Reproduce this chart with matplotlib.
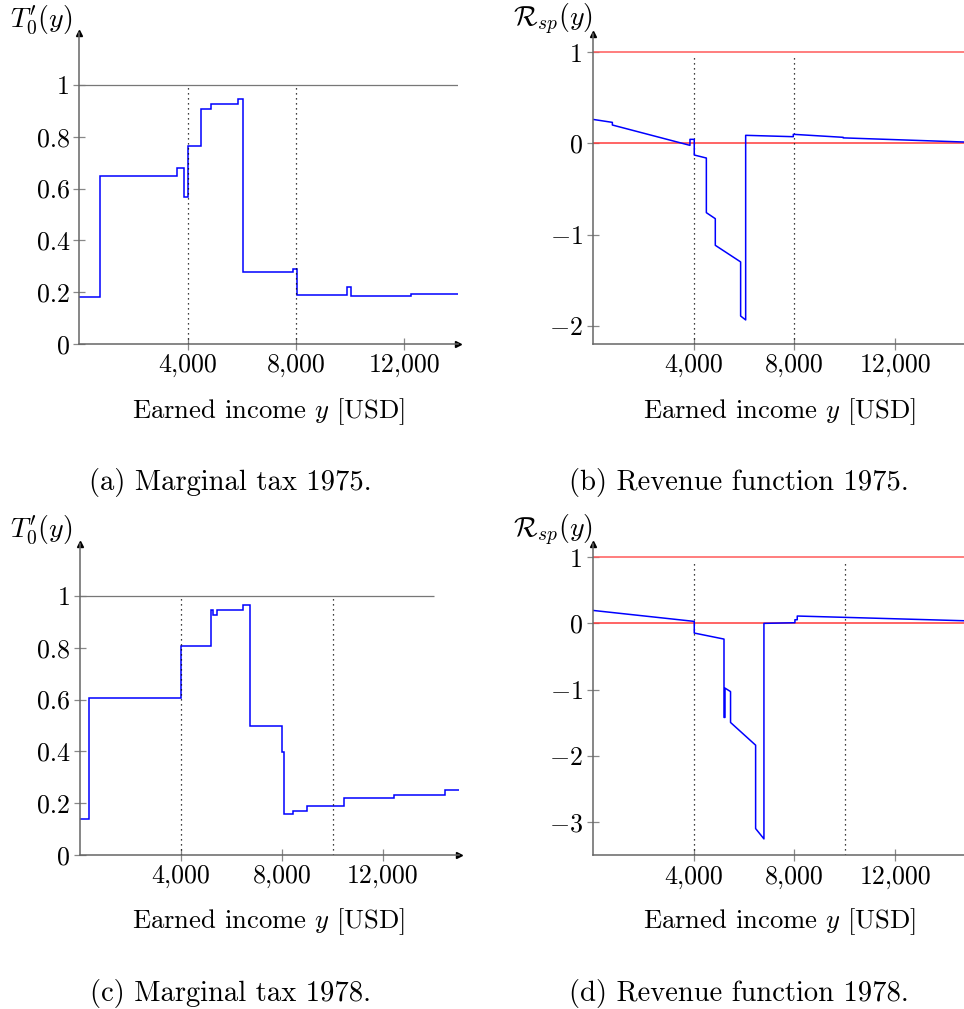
import numpy as np
import matplotlib
matplotlib.use("Agg")
import matplotlib.pyplot as plt

plt.rcParams['font.family'] = 'serif'
plt.rcParams['font.serif'] = ['cmr10', 'DejaVu Serif']
plt.rcParams['mathtext.fontset'] = 'cm'
plt.rcParams['axes.formatter.use_mathtext'] = True
plt.rcParams['axes.unicode_minus'] = False

# marginal tax 1975 (step function: edges and levels)
mt75_edges = [0, 770, 3600, 3870, 4000, 4490, 4870, 5850, 6050, 7880, 8030, 9890, 10050, 12240, 14000]
mt75_levels = [0.182, 0.648, 0.679, 0.567, 0.766, 0.907, 0.927, 0.947, 0.279, 0.290, 0.189, 0.220, 0.184, 0.193]

# marginal tax 1978
mt78_edges = [0, 340, 3990, 5200, 5250, 5440, 6440, 6750, 8000, 8065, 8420, 8980, 10440, 12450, 14440, 15000]
mt78_levels = [0.139, 0.606, 0.805, 0.946, 0.927, 0.946, 0.966, 0.499, 0.398, 0.158, 0.170, 0.189, 0.219, 0.229, 0.250]

# revenue function 1975 (polyline, jumps as repeated x)
rev75_x = [0, 780, 780, 3860, 3860, 4030, 4030, 4510, 4510, 4865, 4865, 5870, 5870, 6070, 6070, 7960, 7960, 9940, 9940, 15000]
rev75_y = [0.263, 0.230, 0.201, -0.022, 0.044, 0.044, -0.128, -0.161, -0.760, -0.826, -1.118, -1.300, -1.893, -1.936,
           0.088, 0.073, 0.099, 0.066, 0.060, 0.012]

# revenue function 1978
rev78_x = [0, 4030, 4030, 5210, 5210, 5250, 5250, 5470, 5470, 6465, 6465, 6795, 6795, 8025, 8025, 8117, 8117, 10470, 15000]
rev78_y = [0.196, 0.030, -0.146, -0.237, -1.420, -1.420, -0.977, -1.030, -1.496, -1.839, -3.098, -3.254,
           0.000, 0.010, 0.055, 0.055, 0.111, 0.086, 0.037]

xticks = [4000, 8000, 12000]
xticklabels = ['4,000', '8,000', '12,000']
mt_yticks = [0, 0.2, 0.4, 0.6, 0.8, 1]
mt_yticklabels = ['0', '0.2', '0.4', '0.6', '0.8', '1']

W, H = 964, 1009
fig = plt.figure(figsize=(W / 100, H / 100), dpi=100)
FS_TICK = 18.7
FS_LAB = 19.2
FS_YLAB = 20
FS_CAP = 20.6


def px_axes(l, r, top, bot):
    return fig.add_axes([l / W, 1 - bot / H, (r - l) / W, (bot - top) / H])


def style(ax, xmax, ymin, ymax):
    ax.set_xlim(0, xmax)
    ax.set_ylim(ymin, ymax)
    for s in ['top', 'right']:
        ax.spines[s].set_visible(False)
    for s in ['left', 'bottom']:
        ax.spines[s].set_color('#666666')
        ax.spines[s].set_linewidth(1.1)
    ax.tick_params(direction='inout', length=8, width=0.9, color='#888888',
                   labelsize=FS_TICK, pad=3)
    ax.set_xticks(xticks)
    ax.set_xticklabels(xticklabels)
    ax.plot(1, 0, marker='>', color='k', ms=5, transform=ax.transAxes, clip_on=False)
    ax.plot(0, 1, marker='^', color='k', ms=5, transform=ax.transAxes, clip_on=False)


def fx(x):
    return x / W


def fy(y):
    return 1 - y / H


# (a)
ax = px_axes(79.3, 458.3, 33.2, 344)
style(ax, 14000, 0, 1.2)
ax.axhline(1, color='#777777', lw=0.9)
ax.vlines([4000, 8000], 0, 1, colors='k', linestyles=(0, (1, 3)), lw=0.9)
ax.stairs(mt75_levels, mt75_edges, baseline=None, color='blue', lw=1.1)
ax.set_yticks(mt_yticks)
ax.set_yticklabels(mt_yticklabels)

# (b)
ax = px_axes(592.7, 970.7, 33.9, 344)
style(ax, 15000, -2.2, 1.2)
ax.axhline(1, color='#ff5a5a', lw=1.1)
ax.axhline(0, color='#ff3a3a', lw=1.1)
ax.vlines([4000, 8000], -2.2, 0.96, colors='k', linestyles=(0, (1, 3)), lw=0.9)
ax.plot(rev75_x, rev75_y, color='blue', lw=1.1)
ax.set_yticks([-2, -1, 0, 1])
ax.set_yticklabels(['$-2$', '$-1$', '0', '1'])

# (c)
ax = px_axes(80, 458.8, 544.3, 854.7)
style(ax, 15000, 0, 1.2)
ax.hlines(1, 0, 14000, color='#777777', lw=0.9)
ax.vlines([4000, 10000], 0, 1, colors='k', linestyles=(0, (1, 3)), lw=0.9)
ax.stairs(mt78_levels, mt78_edges, baseline=None, color='blue', lw=1.1)
ax.set_yticks(mt_yticks)
ax.set_yticklabels(mt_yticklabels)

# (d)
ax = px_axes(592.7, 970.7, 543.9, 855.2)
style(ax, 15000, -3.5, 1.2)
ax.axhline(1, color='#ff5a5a', lw=1.1)
ax.axhline(0, color='#ff3a3a', lw=1.1)
ax.vlines([4000, 10000], -3.5, 0.96, colors='k', linestyles=(0, (1, 3)), lw=0.9)
ax.plot(rev78_x, rev78_y, color='blue', lw=1.1)
ax.set_yticks([-3, -2, -1, 0, 1])
ax.set_yticklabels(['$-3$', '$-2$', '$-1$', '0', '1'])

# labels
fig.text(fx(41), fy(20), "$T_0'(y)$", ha='center', va='center', fontsize=FS_YLAB)
fig.text(fx(553), fy(19), r"$\mathcal{R}_{sp}(y)$", ha='center', va='center', fontsize=FS_YLAB)
fig.text(fx(41), fy(530), "$T_0'(y)$", ha='center', va='center', fontsize=FS_YLAB)
fig.text(fx(553), fy(530), r"$\mathcal{R}_{sp}(y)$", ha='center', va='center', fontsize=FS_YLAB)

for cx, cy in [(269, 412), (780, 412), (269, 922), (780, 922)]:
    fig.text(fx(cx), fy(cy), "Earned income $y$ [USD]", ha='center', va='center', fontsize=FS_LAB)

captions = ['(a) Marginal tax 1975.', '(b) Revenue function 1975.',
            '(c) Marginal tax 1978.', '(d) Revenue function 1978.']
for txt, (cx, cy) in zip(captions, [(230, 483), (739, 483), (230, 993), (739, 993)]):
    fig.text(fx(cx), fy(cy), txt, ha='center', va='center', fontsize=FS_CAP)

fig.savefig('out.png', dpi=100)
